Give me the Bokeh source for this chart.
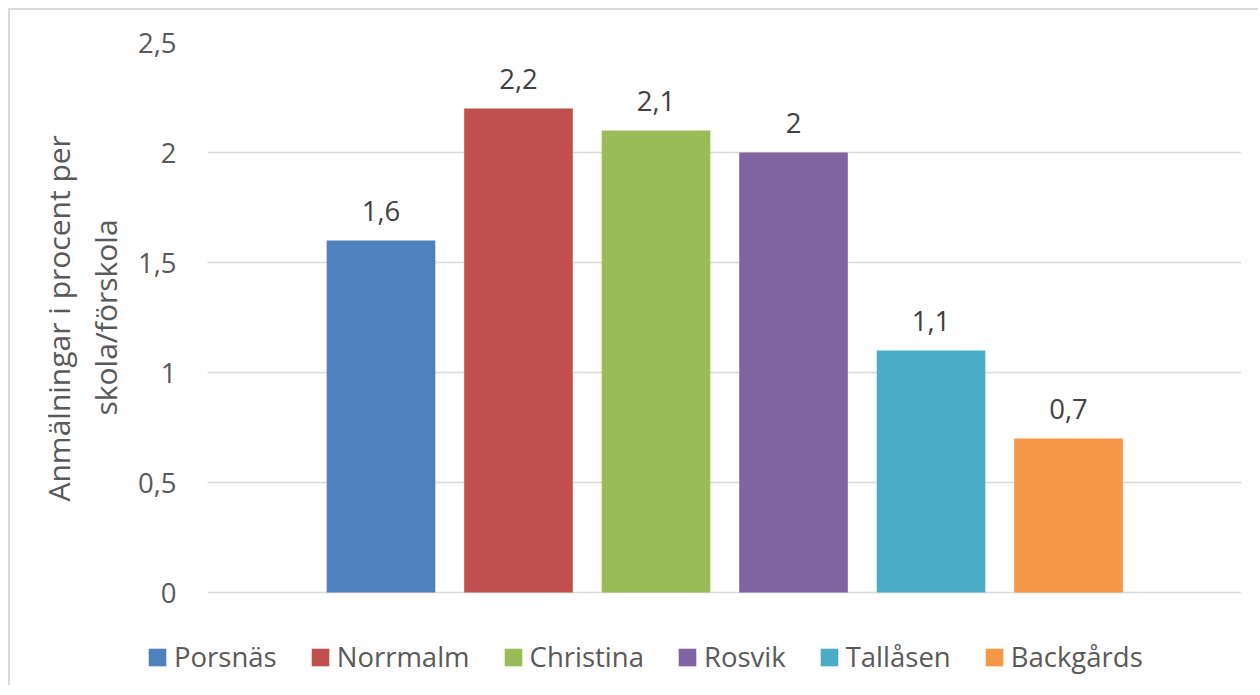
from bokeh.plotting import figure
from bokeh.models import (ColumnDataSource, Range1d, FixedTicker, Grid,
                          LabelSet, Legend, LegendItem, Title)
from bokeh.core.properties import value
from bokeh.embed import file_html
from bokeh.resources import INLINE

# ---- data ----
schools = ["Porsnäs", "Norrmalm", "Christina", "Rosvik", "Tallåsen", "Backgårds"]
values = [1.6, 2.2, 2.1, 2.0, 1.1, 0.7]
colors = ["#4F81BD", "#C0504D", "#9BBB59", "#8064A2", "#4BACC6", "#F79646"]
y_ticks = [0, 0.5, 1, 1.5, 2, 2.5]
y_tick_labels = ["0", "0,5", "1", "1,5", "2", "2,5"]
y_title_lines = ["skola/förskola", "Anmälningar i procent per"]   # inner, outer


def fmt(v):
    return ("%g" % v).replace(".", ",")


FONT = "Open Sans"
TXT = "#595959"
FS = "27.5px"

positions = list(range(len(schools)))
src = ColumnDataSource(dict(x=positions, school=schools, value=values, color=colors,
                            label=[fmt(v) for v in values]))

# layout (screen space) helpers: frame spans legend area too
X_LO, X_HI = -1.7127, 6.258      # frame extent in category units
GRID_LO = -1.2618                 # where the plot area (grid) begins
Y_LO, Y_HI = -0.4318, 2.5

p = figure(width=1250, height=677, output_backend="svg", toolbar_location=None,
           x_range=Range1d(X_LO, X_HI), y_range=Range1d(Y_LO, Y_HI),
           min_border_left=135, min_border_right=19,
           min_border_top=32, min_border_bottom=0)
p.margin = (8, 0, 0, 8)
p.styles = {"border-left": "2px solid #d9d9d9", "border-top": "2px solid #d9d9d9"}
p.outline_line_color = None
p.background_fill_color = "white"
p.border_fill_color = "white"

r = p.vbar(x="x", top="value", width=0.79, source=src,
           fill_color="color", line_color=None)

p.xaxis.visible = False
p.xgrid.grid_line_color = None

ya = p.yaxis[0]
ya.ticker = FixedTicker(ticks=y_ticks)
ya.major_label_overrides = {t: l for t, l in zip(y_ticks, y_tick_labels)}
ya.axis_line_color = None
ya.major_tick_line_color = None
ya.minor_tick_line_color = None
ya.major_tick_out = 0
ya.major_tick_in = 0
ya.major_label_standoff = -31
ya.major_label_text_font = FONT
ya.major_label_text_font_size = FS
ya.major_label_text_color = TXT

# y-axis title as two rotated lines, centred on the 0..2.5 plot area
for txt, off, so in zip(y_title_lines, [272, 186], [18, -10]):
    t = Title(text=txt, align="left", offset=off, standoff=so,
              text_font=FONT, text_font_size="30px", text_font_style="normal",
              text_color=TXT)
    p.add_layout(t, "left")

yg = p.ygrid[0]
yg.grid_line_color = "#D9D9D9"
yg.grid_line_width = 1.5
if "cross_bounds" in Grid.properties():
    yg.cross_bounds = (GRID_LO, X_HI)

labels = LabelSet(x="x", y="value", text="label", source=src,
                  text_align="center", text_baseline="alphabetic", y_offset=20,
                  text_font=value(FONT), text_font_size=value(FS),
                  text_color="#404040")
p.add_layout(labels)

items = [LegendItem(label=s, renderers=[r], index=i) for i, s in enumerate(schools)]
legend = Legend(items=items, orientation="horizontal", location=(1, 12),
                padding=0, margin=0, spacing=32, glyph_width=22, glyph_height=22,
                label_standoff=6, label_text_font=FONT, label_text_font_size=FS,
                label_text_color=TXT, border_line_color=None,
                background_fill_alpha=0)
p.add_layout(legend, "center")

open("out.html", "w").write(file_html(p, INLINE))
